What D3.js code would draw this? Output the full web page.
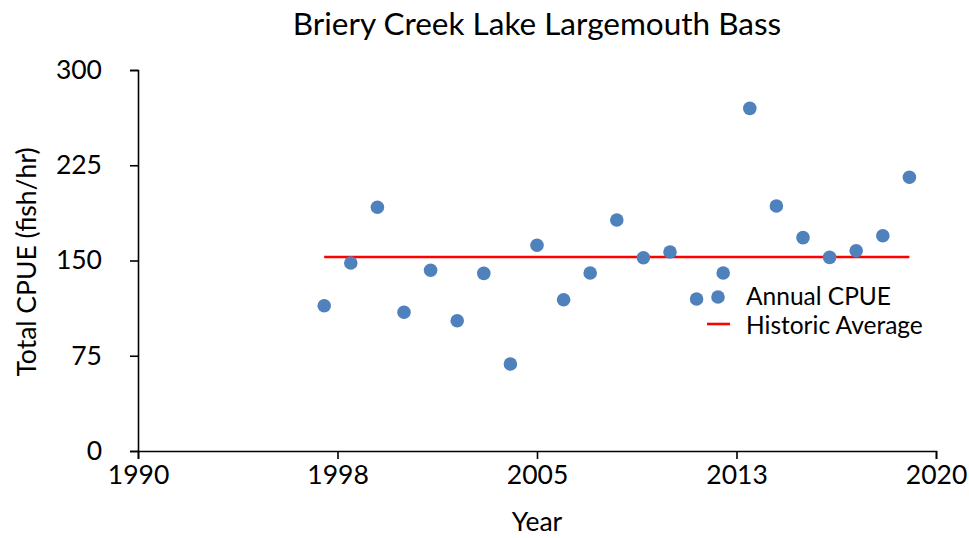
<!DOCTYPE html>
<html><head><meta charset="utf-8">
<script src="https://cdn.jsdelivr.net/npm/d3@7"></script>
<style>body{margin:0;background:#fff}svg{display:block}text{font-family:Lato,"Open Sans",sans-serif;fill:#000}</style>
</head><body>
<script>
const years = [1997,1998,1999,2000,2001,2002,2003,2004,2005,2006,2007,2008,2009,2010,2011,2012,2013,2014,2015,2016,2017,2018,2019];
const cpue = [114.4,148,191.9,109.2,142.3,102.6,139.9,68.5,162,119.1,140.2,181.9,152.2,156.7,119.7,140.2,269.8,192.9,168,152.5,157.7,169.5,215.5];
const avgYears = [1997, 2019];
const avgValues = [152.8, 152.8];
const xTicks = [1990, 1997.5, 2005, 2012.5, 2020];
const yTicks = [0, 75, 150, 225, 300];
const title = "Briery Creek Lake Largemouth Bass";
const xTitle = "Year";
const yTitle = "Total CPUE (fish/hr)";
const seriesNames = ["Annual CPUE", "Historic Average"];

const W = 969, H = 538;
const m = {l:138, r:33, t:70, b:87};
const fs = "26.5px";
const svg = d3.select("body").append("svg").attr("width", W).attr("height", H);
const x = d3.scaleLinear().domain([1990, 2020]).range([m.l, W - m.r]);
const y = d3.scaleLinear().domain([0, 300]).range([H - m.b, m.t]);

const xAxis = svg.append("g").attr("transform", `translate(0,${H - m.b})`)
  .call(d3.axisBottom(x).tickValues(xTicks).tickSizeOuter(0).tickSize(8).tickPadding(6).tickFormat(d => Math.round(d)));
const yAxis = svg.append("g").attr("transform", `translate(${m.l},0)`)
  .call(d3.axisLeft(y).tickValues(yTicks).tickSizeOuter(0).tickSize(8).tickPadding(28));
[xAxis, yAxis].forEach(a => {
  a.select(".domain").attr("stroke", "#000").attr("stroke-width", 1.6);
  a.selectAll(".tick line").attr("stroke", "#000").attr("stroke-width", 1.6);
  a.selectAll(".tick text").style("font-size", fs).attr("fill", "#000");
});
xAxis.selectAll(".tick text").attr("dy", "0.71em");

svg.append("text").attr("x", 537).attr("y", 35).attr("text-anchor", "middle").style("font-size", "31.5px").text(title);
svg.append("text").attr("x", 537).attr("y", 531).attr("text-anchor", "middle").style("font-size", fs).text(xTitle);
svg.append("text").attr("transform", "translate(36,262) rotate(-90)").attr("text-anchor", "middle").style("font-size", fs).text(yTitle);

const line = d3.line().x(d => x(d[0])).y(d => y(d[1]));
svg.append("path").datum(avgYears.map((yr, i) => [yr, avgValues[i]]))
  .attr("d", line).attr("stroke", "#FF0000").attr("stroke-width", 2.6).attr("fill", "none");

svg.append("g").selectAll("circle").data(years.map((yr, i) => [yr, cpue[i]])).join("circle")
  .attr("cx", d => x(d[0])).attr("cy", d => y(d[1])).attr("r", 6.8).attr("fill", "#4F81BD");

const lg = svg.append("g");
lg.append("circle").attr("cx", 718).attr("cy", 297).attr("r", 6.8).attr("fill", "#4F81BD");
lg.append("line").attr("x1", 707).attr("x2", 730).attr("y1", 324).attr("y2", 324).attr("stroke", "#FF0000").attr("stroke-width", 2.6);
lg.append("text").attr("x", 746).attr("y", 304.5).style("font-size", "24.5px").text(seriesNames[0]);
lg.append("text").attr("x", 746).attr("y", 334).style("font-size", "24.5px").text(seriesNames[1]);
</script>
</body></html>
